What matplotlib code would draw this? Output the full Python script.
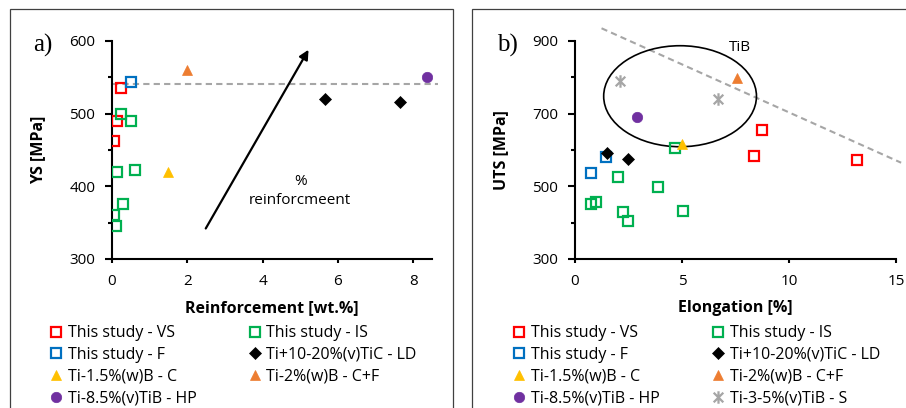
import matplotlib
matplotlib.use("Agg")
import matplotlib.pyplot as plt
from matplotlib.patches import Ellipse, Rectangle
from matplotlib.path import Path

plt.rcParams['font.family'] = ['Open Sans', 'DejaVu Sans']

# a) yield strength vs reinforcement content
ys_vs_x = [0.25, 0.14, 0.05]
ys_vs_y = [536, 490, 462]
ys_is_x = [0.25, 0.5, 0.14, 0.6, 0.3, 0.05, 0.1]
ys_is_y = [499, 490, 420, 423, 376, 360, 346]
ys_f_x = [0.5]
ys_f_y = [543]
ys_ld_x = [5.66, 7.66]
ys_ld_y = [520, 516]
ys_c_x = [1.5]
ys_c_y = [420]
ys_cf_x = [2.0]
ys_cf_y = [560]
ys_hp_x = [8.38]
ys_hp_y = [550]
ys_ref_level = 541

# b) UTS vs elongation
uts_vs_x = [8.72, 8.37, 13.16]
uts_vs_y = [654, 584, 572]
uts_is_x = [4.66, 2.0, 3.87, 0.75, 1.0, 2.22, 2.46, 5.05]
uts_is_y = [606, 527, 498, 451, 457, 428, 404, 433]
uts_f_x = [0.74, 1.46]
uts_f_y = [537, 580]
uts_ld_x = [1.49, 2.49]
uts_ld_y = [591, 575]
uts_c_x = [5.0]
uts_c_y = [617]
uts_cf_x = [7.59]
uts_cf_y = [797]
uts_hp_x = [2.88]
uts_hp_y = [690]
uts_s_x = [2.1, 6.7]
uts_s_y = [791, 740]
trend_x = [1.24, 15.24]
trend_y = [935, 565]

LABELS = {
    "vs": "This study - VS",
    "is": "This study - IS",
    "f": "This study - F",
    "ld": "Ti+10-20%(v)TiC - LD",
    "c": "Ti-1.5%(w)B - C",
    "cf": "Ti-2%(w)B - C+F",
    "hp": "Ti-8.5%(v)TiB - HP",
    "s": "Ti-3-5%(v)TiB - S",
}

# excel style asterisk: an x with a vertical bar through it
asterisk = Path([(-1, -1), (1, 1), (-1, 1), (1, -1), (0, -1.3), (0, 1.3)],
                [Path.MOVETO, Path.LINETO] * 3)

STYLES = {
    "vs": dict(marker="s", mfc="none", mec="#FF0000", ms=7, mew=1.6),
    "is": dict(marker="s", mfc="none", mec="#00B050", ms=7, mew=1.6),
    "f": dict(marker="s", mfc="none", mec="#0070C0", ms=7, mew=1.6),
    "ld": dict(marker="D", mfc="black", mec="black", ms=6, mew=0.5),
    "c": dict(marker="^", mfc="#FFC000", mec="#FFC000", ms=7, mew=0.5),
    "cf": dict(marker="^", mfc="#ED7D31", mec="#ED7D31", ms=7, mew=0.5),
    "hp": dict(marker="o", mfc="#7030A0", mec="#7030A0", ms=7.5, mew=0.5),
    "s": dict(marker=asterisk, mfc="none", mec="#A6A6A6", ms=9, mew=1.6),
}


def draw(ax, key, x, y):
    ax.plot(x, y, linestyle="none", label=LABELS[key], zorder=3, **STYLES[key])


def style_axes(ax):
    for side in ("top", "right"):
        ax.spines[side].set_visible(False)
    for side in ("left", "bottom"):
        ax.spines[side].set_linewidth(1.5)
    ax.tick_params(axis="both", which="major", direction="out", width=1.5,
                   labelsize=11)
    ax.tick_params(axis="x", which="major", length=3, pad=8)
    ax.tick_params(axis="y", which="major", length=5, pad=7)
    ax.tick_params(axis="y", which="minor", length=3, width=1.5)


def add_legend(fig, ax, keys, x0, spacing):
    handles, labels = ax.get_legend_handles_labels()
    lookup = dict(zip(labels, handles))
    # row-major order across two columns
    order = keys[0::2] + keys[1::2]
    ax.legend([lookup[LABELS[k]] for k in order], [LABELS[k] for k in order],
              ncol=2, loc="upper left", bbox_to_anchor=(x0, 0.203),
              bbox_transform=fig.transFigure, frameon=False, borderpad=0,
              borderaxespad=0, handlelength=0.8, handletextpad=0.3,
              columnspacing=spacing, labelspacing=0.36, fontsize=11.5)


fig = plt.figure(figsize=(9.06, 4.08), dpi=100)

# panel frames
for x0, w in [(9.5, 443), (472, 440)]:
    fig.add_artist(Rectangle((x0 / 906, -0.1), w / 906, 1.1 - 9.5 / 408,
                             transform=fig.transFigure, fill=False,
                             edgecolor="#404040", linewidth=0.9))

ax1 = fig.add_axes([112 / 906, 1 - 259 / 408, 320 / 906, 218 / 408])
ax2 = fig.add_axes([575 / 906, 1 - 259 / 408, 321 / 906, 218 / 408])

# ---- a) ----
draw(ax1, "vs", ys_vs_x, ys_vs_y)
draw(ax1, "is", ys_is_x, ys_is_y)
draw(ax1, "f", ys_f_x, ys_f_y)
draw(ax1, "ld", ys_ld_x, ys_ld_y)
draw(ax1, "c", ys_c_x, ys_c_y)
draw(ax1, "cf", ys_cf_x, ys_cf_y)
draw(ax1, "hp", ys_hp_x, ys_hp_y)
ax1.plot([0, 8.67], [ys_ref_level, ys_ref_level], color="#A6A6A6", lw=1.5,
         dashes=(3, 2), zorder=2, clip_on=False)
ax1.annotate("", xy=(5.22, 588), xytext=(2.49, 342),
             arrowprops=dict(arrowstyle="-|>", color="black", lw=1.6,
                             mutation_scale=14, shrinkA=0, shrinkB=0))
ax1.text(5.0, 394, "%\nreinforcmeent", ha="center", va="center", fontsize=11,
         linespacing=1.35)
ax1.set_xlim(0, 8.5)
ax1.set_ylim(300, 600)
ax1.set_xticks([0, 2, 4, 6, 8])
ax1.set_yticks([300, 400, 500, 600])
ax1.set_yticks([350, 450, 550], minor=True)
ax1.set_xlabel("Reinforcement [wt.%]", fontsize=11.5, fontweight="bold",
               labelpad=8)
ax1.set_ylabel("YS [MPa]", fontsize=11.5, fontweight="bold", labelpad=17)
style_axes(ax1)
add_legend(fig, ax1, ["vs", "is", "f", "ld", "c", "cf", "hp"], 50 / 906, 3.25)
fig.text(43 / 906, 1 - 45 / 408, "a)", family="Liberation Serif", fontsize=18,
         ha="center", va="center")

# ---- b) ----
draw(ax2, "vs", uts_vs_x, uts_vs_y)
draw(ax2, "is", uts_is_x, uts_is_y)
draw(ax2, "f", uts_f_x, uts_f_y)
draw(ax2, "ld", uts_ld_x, uts_ld_y)
draw(ax2, "c", uts_c_x, uts_c_y)
draw(ax2, "cf", uts_cf_x, uts_cf_y)
draw(ax2, "hp", uts_hp_x, uts_hp_y)
draw(ax2, "s", uts_s_x, uts_s_y)
ax2.plot(trend_x, trend_y, color="#A6A6A6", lw=1.5, dashes=(3, 2), zorder=2,
         clip_on=False)
ax2.add_patch(Ellipse((4.91, 748), 7.14, 278, fill=False, edgecolor="black",
                      lw=1.2, zorder=2))
ax2.text(7.71, 883, "TiB", ha="center", va="center", fontsize=11)
ax2.set_xlim(0, 15)
ax2.set_ylim(300, 900)
ax2.set_xticks([0, 5, 10, 15])
ax2.set_yticks([300, 500, 700, 900])
ax2.set_yticks([400, 600, 800], minor=True)
ax2.set_xlabel("Elongation [%]", fontsize=11.5, fontweight="bold", labelpad=8)
ax2.set_ylabel("UTS [MPa]", fontsize=11.5, fontweight="bold", labelpad=17)
style_axes(ax2)
add_legend(fig, ax2, ["vs", "is", "f", "ld", "c", "cf", "hp", "s"], 513 / 906,
           3.3)
fig.text(507 / 906, 1 - 45 / 408, "b)", family="Liberation Serif", fontsize=18,
         ha="center", va="center")

fig.savefig("out.png", dpi=100)
